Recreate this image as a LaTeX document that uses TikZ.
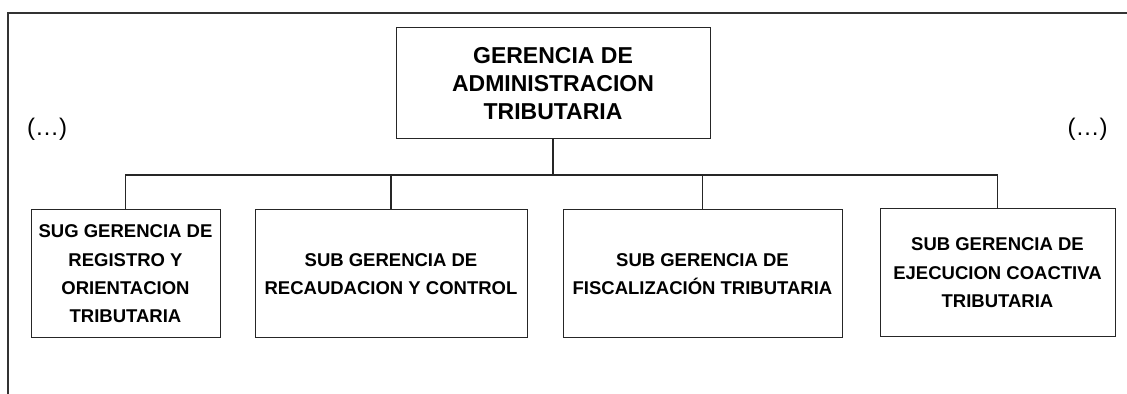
\documentclass[tikz,border=0pt]{standalone}
\usepackage{fontspec}
\setmainfont{Liberation Sans}
\begin{document}
\begin{tikzpicture}[x=0.5pt,y=-0.5pt,
    unit/.style={draw=black!85,line width=0.5pt,align=center,inner sep=0pt,
      font=\fontsize{9.25}{14.2}\selectfont\bfseries},
    link/.style={draw=black!85,line width=0.6pt}]
      \useasboundingbox (0,0) rectangle (1127,394);
      \draw[black!80,line width=0.65pt] (8,394) -- (8,13) -- (1127,13);
      \node[unit,minimum width=157pt,minimum height=55.5pt,
        font=\fontsize{11.5}{14.2}\selectfont\bfseries] (gat) at (553,83.5)
        {GERENCIA DE\\ADMINISTRACION\\TRIBUTARIA};
      \node[unit,minimum width=94.5pt,minimum height=64pt] (reg) at (125.5,274)
        {SUG GERENCIA DE\\REGISTRO Y\\ORIENTACION\\TRIBUTARIA};
      \node[unit,minimum width=136pt,minimum height=64pt] (rec) at (391,274)
        {SUB GERENCIA DE\\RECAUDACION Y CONTROL};
      \node[unit,minimum width=139.5pt,minimum height=64pt] (fis) at (702.5,274)
        {SUB GERENCIA DE\\FISCALIZACIÓN TRIBUTARIA};
      \node[unit,minimum width=117.5pt,minimum height=64pt] (eje) at (997.5,273)
        {SUB GERENCIA DE\\EJECUCION COACTIVA\\TRIBUTARIA};
      \node[font=\fontsize{12}{14}\selectfont] (izq) at (47,129) {(…)};
      \node[font=\fontsize{12}{14}\selectfont] (der) at (1087.5,129) {(…)};
      \coordinate (bus) at (553,175);
      \begin{scope}[link]
        \draw (gat) -- (bus);
        \draw (bus) -| (reg);
        \draw (bus) -| (rec);
        \draw (bus) -| (fis);
        \draw (bus) -| (eje);
      \end{scope}
    \end{tikzpicture}
\end{document}
